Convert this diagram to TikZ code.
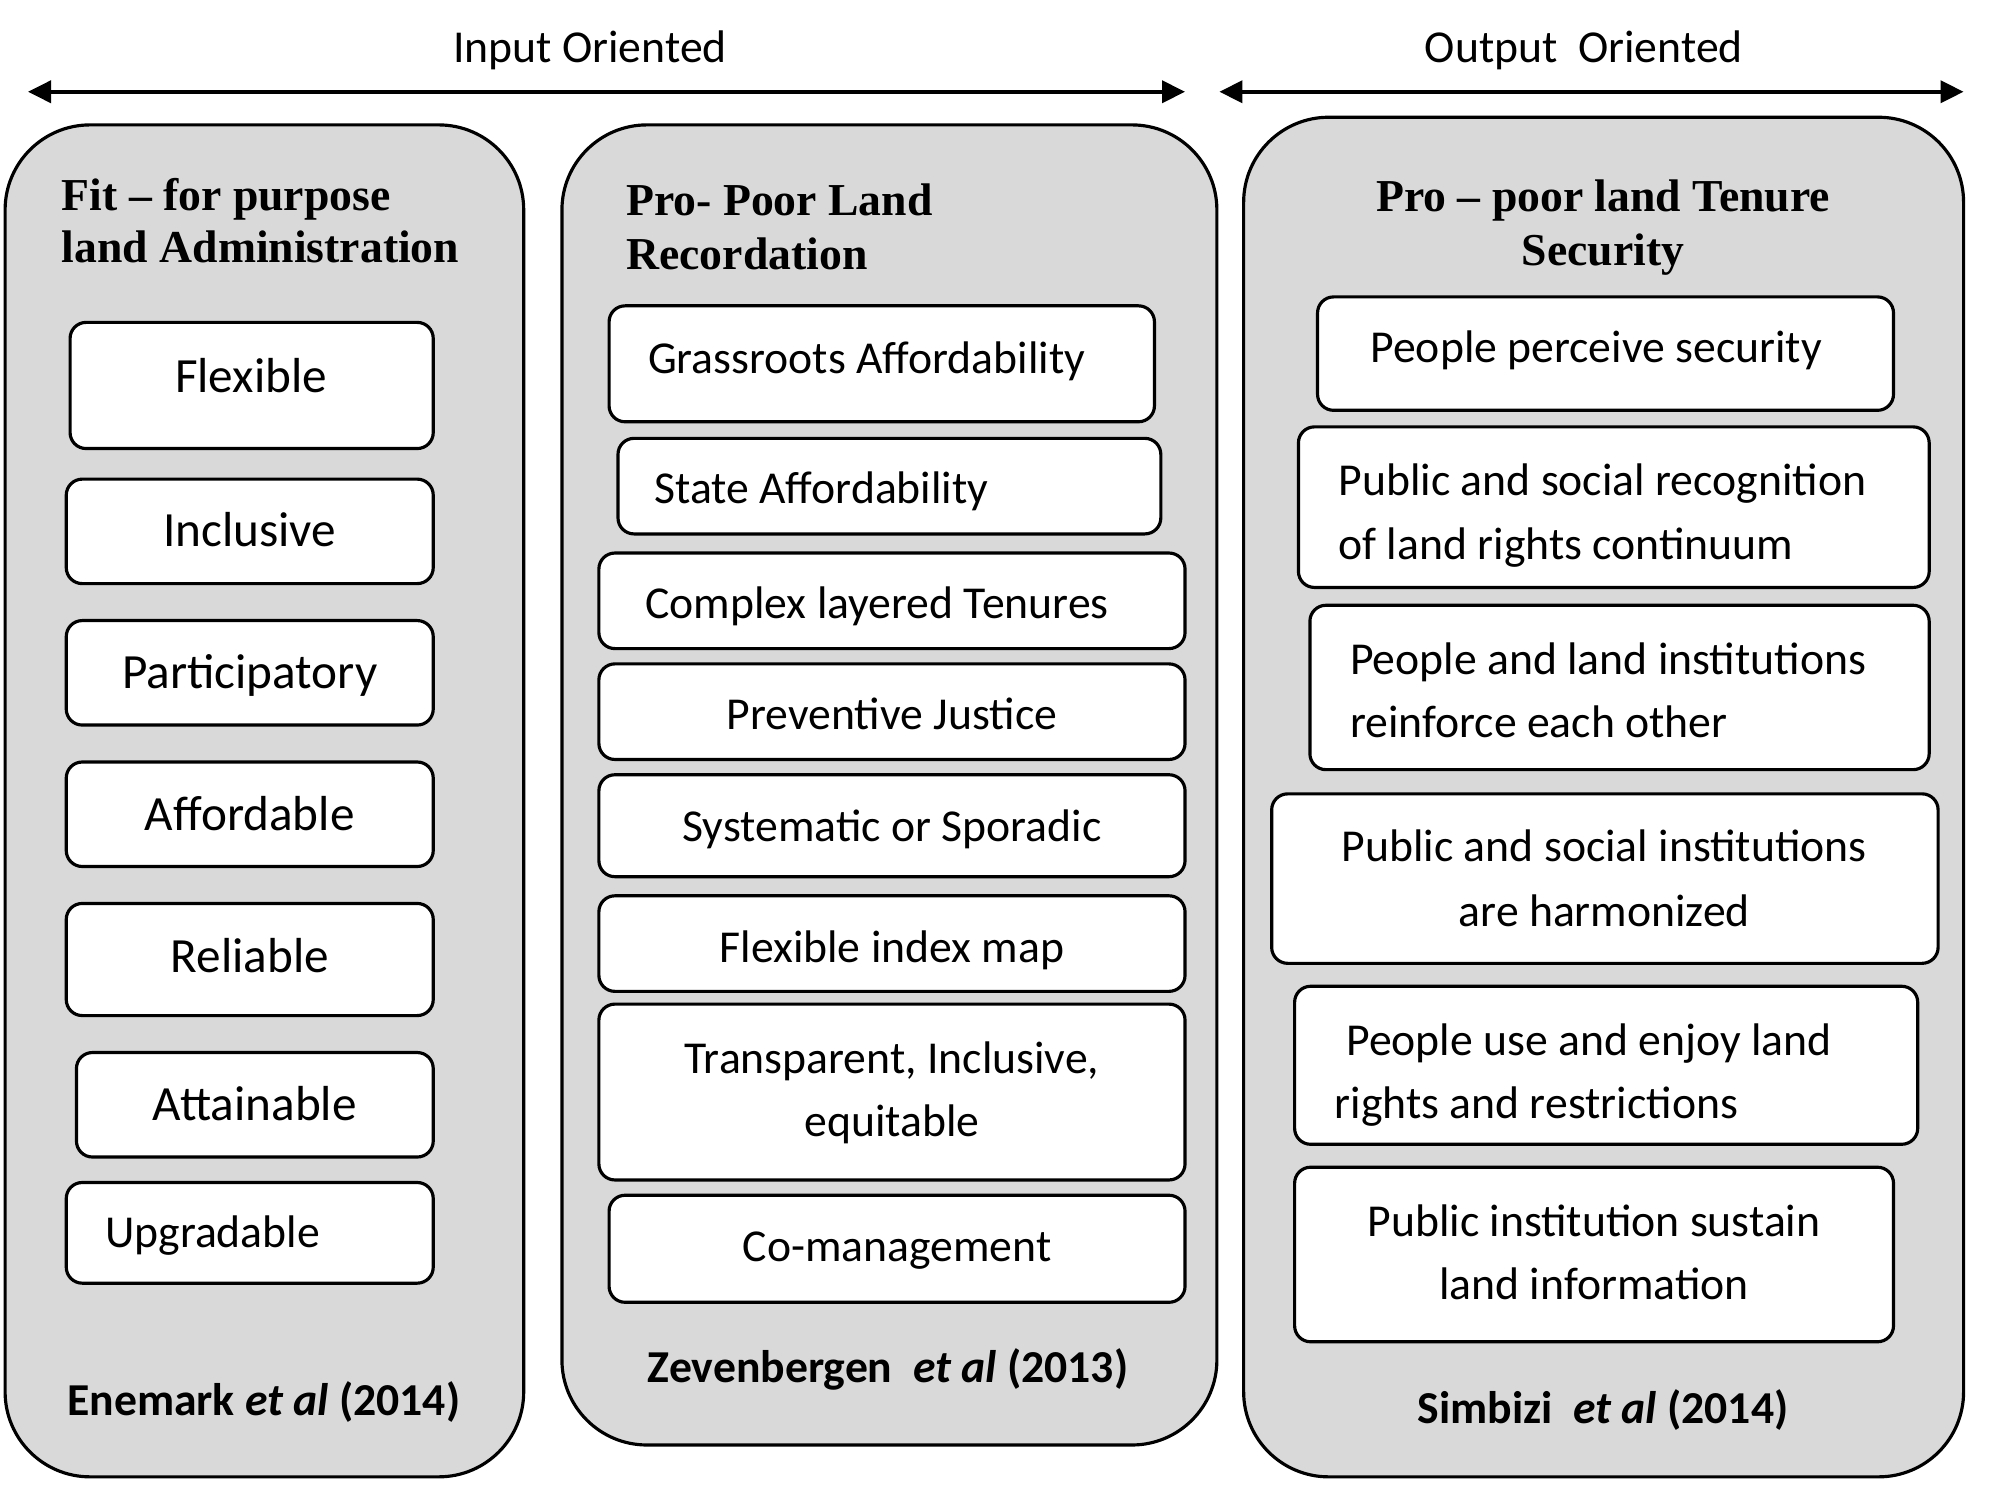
\documentclass[tikz,border=0pt]{standalone}
\usepackage{fontspec}
\setmainfont{Carlito}
\newfontfamily\serifbold{Liberation Serif}
\usetikzlibrary{arrows.meta,fit}
\definecolor{panelgray}{RGB}{217,217,217}
\tikzset{
  panel/.style={draw=black, line width=0.9pt, fill=panelgray, rounded corners=0.85cm, inner sep=0pt},
  box/.style={draw=black, line width=0.9pt, fill=white, rounded corners=0.16cm, inner sep=0pt},
  base/.style={inner sep=0pt, text height=0.64em, text depth=0pt, yshift=-1.2pt},
  txt/.style={base, font=\fontsize{13}{18}\selectfont},
  txtA/.style={base, font=\fontsize{14}{18}\selectfont},
  ttl/.style={base, font=\fontsize{13}{15}\selectfont\serifbold\bfseries},
  cite/.style={base, font=\fontsize{13}{15}\selectfont\bfseries},
  head/.style={base, font=\fontsize{13}{15}\selectfont},
  axis/.style={line width=1.1pt, {Triangle[length=0.23cm,width=0.22cm]}-{Triangle[length=0.23cm,width=0.22cm]}}
}
\begin{document}
\begin{tikzpicture}[x=0.012742cm, y=-0.012742cm]
\useasboundingbox (0,0) rectangle (1568,1182);

% top arrows
\coordinate (inL) at (22,72);
\coordinate (inR) at (930,72);
\coordinate (outL) at (957,72);
\coordinate (outR) at (1541,72);
\draw[axis] (inL) -- (inR);
\draw[axis] (outL) -- (outR);
\node[head] (inlab) at (463,37) {Input Oriented};
\node[head] (outlab) at (1243,37) {Output\ \ Oriented};

% panels
\node[panel, fit={(4,98) (411,1159)}] (p1) {};
\node[panel, fit={(441,98) (955,1134)}] (p2) {};
\node[panel, fit={(976,92) (1541,1159)}] (p3) {};

% panel 1
\node[ttl, anchor=west] (t1a) at (48,153) {Fit – for purpose};
\node[ttl, anchor=west] (t1b) at (48,194) {land Administration};
\node[box, fit={(55,253) (340,352)}] (a1) {};
\node[box, fit={(52,376) (340,458)}] (a2) {};
\node[box, fit={(52,487) (340,569)}] (a3) {};
\node[box, fit={(52,598) (340,680)}] (a4) {};
\node[box, fit={(52,709) (340,797)}] (a5) {};
\node[box, fit={(60,826) (340,908)}] (a6) {};
\node[box, fit={(52,928) (340,1007)}] (a7) {};
\node[txtA] at (197,296) {Flexible};
\node[txtA] at (196,417) {Inclusive};
\node[txtA] at (196,528) {Participatory};
\node[txtA] at (196,640) {Affordable};
\node[txtA] at (196,751) {Reliable};
\node[txtA] at (200,867) {Attainable};
\node[txt, anchor=west] at (82,967) {Upgradable};
\node[cite] (c1) at (207,1099) {Enemark \textit{et al} (2014)};

% panel 2
\node[ttl, anchor=west] (t2a) at (491,157) {Pro- Poor Land};
\node[ttl, anchor=west] (t2b) at (491,199) {Recordation};
\node[box, fit={(478,240) (906,331)}] (b1) {};
\node[box, fit={(485,344) (911,419)}] (b2) {};
\node[box, fit={(470,434) (930,509)}] (b3) {};
\node[box, fit={(470,521) (930,596)}] (b4) {};
\node[box, fit={(470,608) (930,688)}] (b5) {};
\node[box, fit={(470,703) (930,778)}] (b6) {};
\node[box, fit={(470,788) (930,926)}] (b7) {};
\node[box, fit={(478,938) (930,1022)}] (b8) {};
\node[txt, anchor=west] at (508,281) {Grassroots Affordability};
\node[txt, anchor=west] at (513,383) {State Affordability};
\node[txt, anchor=west] at (506,473) {Complex layered Tenures};
\node[txt] at (700,560) {Preventive Justice};
\node[txt] at (700,648) {Systematic or Sporadic};
\node[txt] at (700,743) {Flexible index map};
\node[txt] at (700,830) {Transparent, Inclusive,};
\node[txt] at (700,880) {equitable};
\node[txt] at (704,978) {Co-management};
\node[cite] (c2) at (697,1073) {Zevenbergen\ \ \textit{et al} (2013)};

% panel 3
\node[ttl] (t3a) at (1258,154) {Pro – poor land Tenure};
\node[ttl] (t3b) at (1258,196) {Security};
\node[box, fit={(1034,233) (1486,322)}] (s1) {};
\node[box, fit={(1019,335) (1514,461)}] (s2) {};
\node[box, fit={(1028,475) (1514,604)}] (s3) {};
\node[box, fit={(998,623) (1521,756)}] (s4) {};
\node[box, fit={(1016,774) (1505,898)}] (s5) {};
\node[box, fit={(1016,916) (1486,1053)}] (s6) {};
\node[txt, anchor=west] at (1075,272) {People perceive security};
\node[txt, anchor=west] at (1050,377) {Public and social recognition};
\node[txt, anchor=west] at (1050,427) {of land rights continuum};
\node[txt, anchor=west] at (1059,517) {People and land institutions};
\node[txt, anchor=west] at (1059,567) {reinforce each other};
\node[txt] at (1259,664) {Public and social institutions};
\node[txt] at (1259,715) {are harmonized};
\node[txt, anchor=west] at (1056,816) {People use and enjoy land};
\node[txt, anchor=west] at (1047,866) {rights and restrictions};
\node[txt] at (1251,958) {Public institution sustain};
\node[txt] at (1251,1008) {land information};
\node[cite] (c3) at (1258,1105) {Simbizi\ \ \textit{et al} (2014)};
\end{tikzpicture}
\end{document}
